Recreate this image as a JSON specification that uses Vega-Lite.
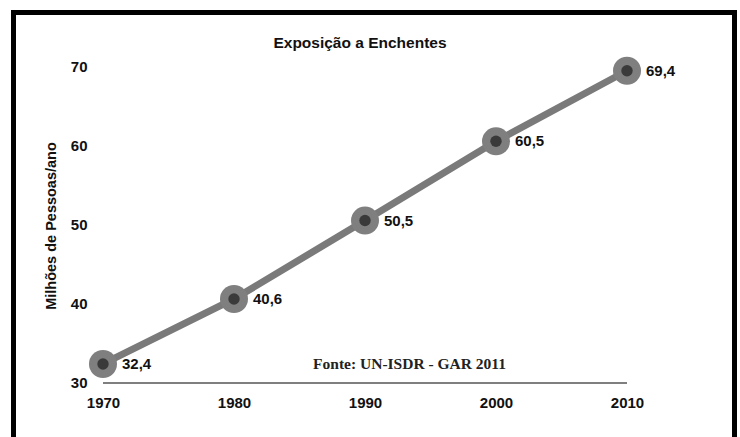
{
  "$schema": "https://vega.github.io/schema/vega-lite/v6.json",
  "width": 721,
  "height": 430,
  "autosize": {"type": "none"},
  "padding": {"left": 13.5, "top": 12.5, "right": 5.5, "bottom": 0},
  "background": "white",
  "config": {
    "view": {"stroke": "black", "strokeWidth": 5},
    "locale": {"number": {"decimal": ",", "thousands": ".", "grouping": [3], "currency": ["R$", ""]}},
    "font": "Liberation Sans"
  },
  "title": {
    "text": "Exposição a Enchentes",
    "font": "Liberation Sans",
    "fontSize": 15.5,
    "fontWeight": "bold",
    "color": "#111",
    "anchor": "middle",
    "offset": 0,
    "dx": -14,
    "dy": 39
  },
  "datasets": {
    "series": [
      {"ano": 1970, "valor": 32.4},
      {"ano": 1980, "valor": 40.6},
      {"ano": 1990, "valor": 50.5},
      {"ano": 2000, "valor": 60.5},
      {"ano": 2010, "valor": 69.4}
    ],
    "eixo": [{"inicio": 1970, "fim": 2010, "base": 30}],
    "fonte": [{"ano": 1993.4, "valor": 32.4, "texto": "Fonte: UN-ISDR - GAR 2011"}]
  },
  "layer": [
    {
      "data": {"name": "eixo"},
      "mark": {"type": "rule", "color": "#555", "strokeWidth": 1.5},
      "encoding": {
        "x": {"field": "inicio", "type": "quantitative"},
        "x2": {"field": "fim"},
        "y": {"field": "base", "type": "quantitative"}
      }
    },
    {
      "data": {"name": "series"},
      "mark": {"type": "line", "color": "#7a7a7a", "strokeWidth": 7},
      "encoding": {
        "x": {
          "field": "ano", "type": "quantitative",
          "scale": {"domain": [1963.168, 2018.206], "nice": false, "zero": false},
          "axis": {
            "title": null, "values": [1970, 1980, 1990, 2000, 2010], "format": "d",
            "domain": false, "ticks": false, "grid": false, "labelPadding": 0,
            "offset": -47.5, "labelFont": "Liberation Sans", "labelFontSize": 15,
            "labelFontWeight": "bold", "labelColor": "#111", "labelFlush": false
          }
        },
        "y": {
          "field": "valor", "type": "quantitative",
          "scale": {"domain": [22.492, 76.751], "nice": false, "zero": false},
          "axis": {
            "title": "Milhões de Pessoas/ano", "values": [30, 40, 50, 60, 70], "format": "d",
            "domain": false, "ticks": false, "grid": false, "labelPadding": 0,
            "offset": -73.5, "labelFont": "Liberation Sans", "labelFontSize": 15,
            "labelFontWeight": "bold", "labelColor": "#111",
            "titleFont": "Liberation Sans", "titleFontSize": 14.5, "titleFontWeight": "bold",
            "titleColor": "#111", "titlePadding": 12, "titleY": 213
          }
        }
      }
    },
    {
      "data": {"name": "series"},
      "mark": {"type": "circle", "color": "#7f7f7f", "opacity": 1, "size": 784},
      "encoding": {
        "x": {"field": "ano", "type": "quantitative"},
        "y": {"field": "valor", "type": "quantitative"}
      }
    },
    {
      "data": {"name": "series"},
      "mark": {"type": "circle", "color": "#3a3a3a", "opacity": 1, "size": 130},
      "encoding": {
        "x": {"field": "ano", "type": "quantitative"},
        "y": {"field": "valor", "type": "quantitative"}
      }
    },
    {
      "data": {"name": "series"},
      "mark": {"type": "text", "align": "left", "baseline": "middle", "dx": 19, "fontSize": 15, "fontWeight": "bold", "color": "#111", "font": "Liberation Sans"},
      "encoding": {
        "x": {"field": "ano", "type": "quantitative"},
        "y": {"field": "valor", "type": "quantitative"},
        "text": {"field": "valor", "type": "quantitative", "format": ".1f"}
      }
    },
    {
      "data": {"name": "fonte"},
      "mark": {"type": "text", "align": "center", "baseline": "middle", "fontSize": 15.5, "fontWeight": "bold", "color": "#222", "font": "Liberation Serif"},
      "encoding": {
        "x": {"field": "ano", "type": "quantitative"},
        "y": {"field": "valor", "type": "quantitative"},
        "text": {"field": "texto"}
      }
    }
  ]
}
